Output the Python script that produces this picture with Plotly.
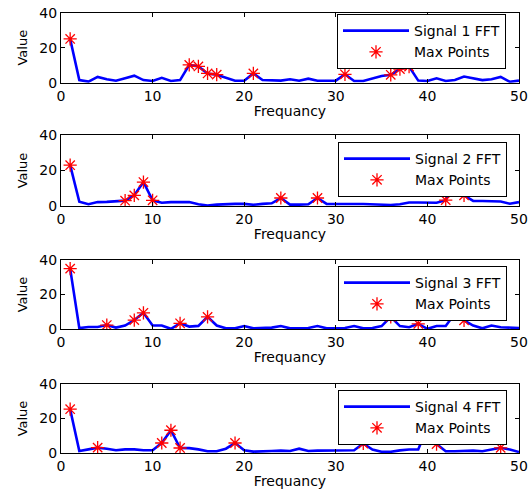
import plotly.graph_objects as go

freq = list(range(1, 51))

sig1 = [25, 1.5, 0.6, 3.3, 2, 1.1, 2.5, 4, 1.5, 1, 2.8, 1, 1.5, 10.2, 9.3, 5.3, 4.6, 3, 1.1, 1.1,
        5.3, 1.5, 1.2, 1.2, 2, 1.1, 2.3, 1.1, 1.1, 1.2, 4.8, 1, 1, 2.5, 3.8, 4.5, 7.8, 9.2, 1.2, 1,
        2.5, 1, 1.5, 3.5, 2.5, 1.5, 2, 3.3, 0.5, 1.2]
sig2 = [23, 2.4, 1, 2.2, 2.3, 2.6, 3, 6, 13.5, 3.2, 1.8, 2.2, 2.2, 2.2, 1, 0.3, 0.8, 1.2, 1.2, 1.2,
        0.7, 1.2, 1.5, 4.5, 0.8, 0.8, 1, 4.5, 1.2, 1.1, 0.9, 1.1, 1.1, 0.9, 0.7, 0.6, 1, 2, 2, 2,
        1.8, 3.3, 14, 6, 2.9, 2.8, 2.6, 2.5, 1.3, 2.2]
sig3 = [35, 0.5, 1.2, 1.2, 2.3, 0.8, 2, 5.2, 9.4, 2, 2, 0.1, 3.3, 1.4, 1.8, 7, 2, 0.4, 0.4, 1.7,
        0.4, 0.4, 0.8, 1.7, 0.4, 0.4, 0.6, 1.7, 0.4, 0.4, 0.6, 1.7, 0.4, 0.6, 1.7, 7, 1.7, 1, 3, 0.1,
        1.7, 1.7, 9, 5, 2, 0.4, 2, 1, 1, 0.6]
sig4 = [25.4, 1.2, 2.1, 3.1, 2.5, 1.6, 2.1, 2.1, 1.6, 1.6, 5.8, 13.2, 2.9, 2.8, 2.1, 1, 1, 2.5, 5.8, 1.6,
        0.8, 0.8, 1.2, 1.4, 1.2, 2.5, 1.2, 1.4, 1.4, 1.2, 1.3, 1.6, 5.5, 2, 0.7, 0.7, 1.5, 2, 2, 15,
        5.2, 1, 1, 1.4, 1.4, 1, 2, 3, 2, 0.6]

max1 = [1, 14, 15, 16, 17, 21, 31, 36, 37, 38]
max2 = [1, 7, 8, 9, 10, 24, 28, 42, 43, 44]
max3 = [1, 5, 8, 9, 13, 16, 36, 39, 43, 44]
max4 = [1, 4, 11, 12, 13, 19, 33, 40, 41, 48]

signals = [sig1, sig2, sig3, sig4]
maxes = [max1, max2, max3, max4]
names = ["Signal 1 FFT", "Signal 2 FFT", "Signal 3 FFT", "Signal 4 FFT"]
x_ticks = [0, 10, 20, 30, 40, 50]
y_ticks = [0, 20, 40]

H = 490.0
# pixel extents of each axes box (top, bottom)
boxes = [(12.7, 82.7), (135, 206), (260, 329), (384, 453)]
legend_tops = [14, 142, 266, 390]
legend_rights = [506, 507, 507, 507]

FONT = "DejaVu Sans, Liberation Sans, Arial, sans-serif"
fig = go.Figure()
layout = dict(
    width=528, height=490,
    margin=dict(l=61, r=9, t=0, b=0),
    paper_bgcolor="white", plot_bgcolor="white",
    font=dict(family=FONT, size=14, color="black"),
    showlegend=True,
)

for i in range(4):
    sfx = "" if i == 0 else str(i + 1)
    xa = "x" + sfx
    ya = "y" + sfx
    lg = "legend" + sfx
    sig = signals[i]
    mx = maxes[i]
    fig.add_trace(go.Scatter(
        x=freq, y=sig, mode="lines", name=names[i],
        line=dict(color="#0000ff", width=2.6),
        xaxis=xa, yaxis=ya, legend=lg))
    fig.add_trace(go.Scatter(
        x=mx, y=[sig[f - 1] for f in mx], mode="markers", name="Max Points",
        marker=dict(symbol="asterisk-open", size=11, color="#ff0000",
                    line=dict(color="#ff0000", width=1.3)),
        xaxis=xa, yaxis=ya, legend=lg))
    top, bot = boxes[i]
    layout["xaxis" + sfx] = dict(
        domain=[0, 1], anchor=ya, range=[0, 50], tickvals=x_ticks,
        ticks="inside", ticklen=4, tickcolor="black", mirror="ticks",
        showline=True, linecolor="black", linewidth=1, showgrid=False, zeroline=False,
        tickfont=dict(size=14), automargin=False,
        title=dict(text="Frequancy", font=dict(size=14), standoff=3))
    layout["yaxis" + sfx] = dict(
        domain=[1 - bot / H, 1 - top / H], anchor=xa, range=[0, 40], tickvals=y_ticks,
        ticks="inside", ticklen=4, tickcolor="black", mirror="ticks",
        showline=True, linecolor="black", linewidth=1, showgrid=False, zeroline=False,
        tickfont=dict(size=14), automargin=False,
        title=dict(text="Value", font=dict(size=13), standoff=8))
    layout[lg] = dict(
        x=(legend_rights[i] - 61) / 458.0, y=1 - legend_tops[i] / H,
        xanchor="right", yanchor="top",
        bgcolor="white", bordercolor="black", borderwidth=1,
        font=dict(size=14), itemwidth=66, tracegroupgap=0)

fig.update_layout(**layout)
fig.write_html("out.html")
